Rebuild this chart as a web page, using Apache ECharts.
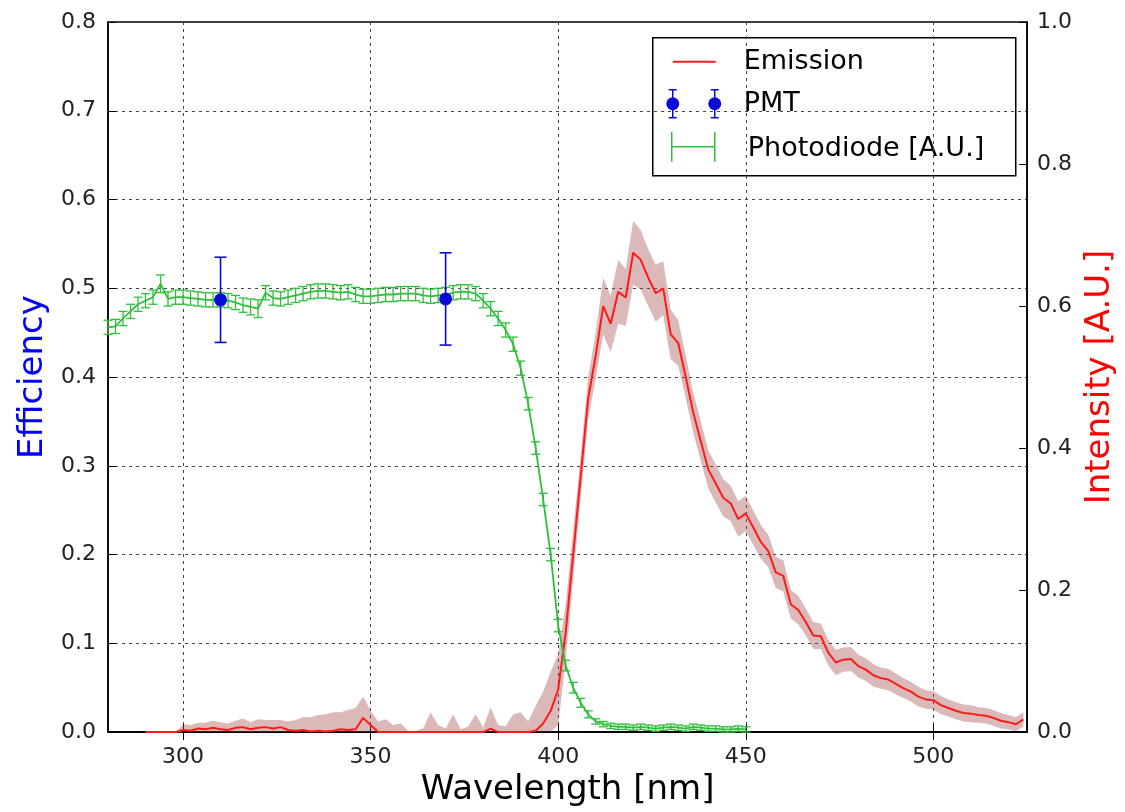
<!DOCTYPE html>
<html><head><meta charset="utf-8">
<script src="https://cdn.jsdelivr.net/npm/echarts@6/dist/echarts.min.js"></script>
<style>html,body{margin:0;padding:0;background:#fff}#c{width:1125px;height:812px}</style>
</head><body><div id="c"></div><script>
const emissionWavelength = [290,292,294,296,298,300,302,304,306,308,310,312,314,316,318,320,322,324,326,328,330,332,334,336,338,340,342,344,346,348,350,352,354,356,358,360,362,364,366,368,370,372,374,376,378,380,382,384,386,388,390,392,394,396,398,400,402,404,406,408,410,412,414,416,418,420,422,424,426,428,430,432,434,436,438,440,442,444,446,448,450,452,454,456,458,460,462,464,466,468,470,472,474,476,478,480,482,484,486,488,490,492,494,496,498,500,502,504,506,508,510,512,514,516,518,520,522,524];
const emissionIntensity = [0,0,0,0,0,0.003,0.002,0.005,0.004,0.006,0.004,0.003,0.006,0.007,0.004,0.006,0.007,0.005,0.007,0.003,0.002,0.003,0.001,0.002,0.001,0.002,0.004,0.003,0.004,0.02,0.01,0,0,0,0,0,0,0,0,0,0,0,0,0,0,0,0.005,0,0,0,0,0,0.002,0.012,0.03,0.06,0.14,0.25,0.36,0.47,0.53,0.6,0.575,0.62,0.612,0.675,0.665,0.64,0.618,0.625,0.56,0.548,0.5,0.45,0.41,0.37,0.35,0.33,0.322,0.3,0.308,0.288,0.268,0.255,0.225,0.22,0.18,0.172,0.155,0.136,0.135,0.112,0.098,0.102,0.103,0.093,0.088,0.08,0.076,0.074,0.068,0.062,0.057,0.05,0.046,0.045,0.038,0.034,0.03,0.027,0.026,0.024,0.023,0.02,0.016,0.014,0.011,0.018];
const emissionErr = [0,0,0,0,0,0.008,0.008,0.008,0.009,0.01,0.01,0.009,0.01,0.012,0.01,0.012,0.01,0.012,0.01,0.012,0.015,0.018,0.02,0.022,0.024,0.026,0.024,0.028,0.03,0.03,0.02,0.015,0.018,0.01,0.012,0.002,0.002,0.005,0.028,0.01,0.005,0.025,0.004,0.008,0.025,0.006,0.03,0.01,0.008,0.025,0.028,0.015,0.035,0.045,0.055,0.05,0.04,0.035,0.03,0.03,0.032,0.04,0.04,0.045,0.04,0.045,0.042,0.04,0.04,0.038,0.035,0.032,0.03,0.028,0.028,0.027,0.027,0.026,0.025,0.025,0.025,0.024,0.024,0.023,0.022,0.022,0.02,0.02,0.019,0.019,0.018,0.018,0.018,0.017,0.017,0.016,0.016,0.016,0.015,0.015,0.015,0.014,0.014,0.014,0.013,0.013,0.013,0.012,0.012,0.012,0.012,0.011,0.011,0.011,0.011,0.01,0.01,0.01];

const photodiodeWavelength = [280,282,284,286,288,290,292,294,296,298,300,302,304,306,308,310,312,314,316,318,320,322,324,326,328,330,332,334,336,338,340,342,344,346,348,350,352,354,356,358,360,362,364,366,368,370,372,374,376,378,380,382,384,386,388,390,392,394,396,398,400,402,404,406,408,410,412,414,416,418,420,422,424,426,428,430,432,434,436,438,440,442,444,446,448,450];
const photodiodeEfficiency = [0.456,0.457,0.466,0.474,0.482,0.486,0.49,0.505,0.488,0.49,0.49,0.489,0.488,0.487,0.487,0.487,0.486,0.484,0.481,0.479,0.477,0.495,0.489,0.488,0.49,0.492,0.494,0.496,0.497,0.497,0.496,0.495,0.496,0.493,0.491,0.491,0.492,0.493,0.493,0.494,0.494,0.494,0.492,0.491,0.492,0.493,0.495,0.496,0.496,0.494,0.486,0.477,0.466,0.453,0.437,0.41,0.37,0.32,0.262,0.2,0.12,0.075,0.05,0.033,0.02,0.012,0.009,0.007,0.006,0.006,0.005,0.006,0.005,0.004,0.005,0.006,0.005,0.004,0.006,0.005,0.004,0.004,0.003,0.003,0.004,0.003];
const photodiodeErr = [0.008,0.008,0.008,0.008,0.008,0.008,0.008,0.01,0.008,0.008,0.008,0.008,0.008,0.008,0.008,0.008,0.008,0.008,0.008,0.009,0.01,0.008,0.008,0.008,0.008,0.008,0.008,0.008,0.008,0.008,0.008,0.008,0.008,0.008,0.008,0.008,0.008,0.008,0.008,0.008,0.008,0.008,0.008,0.008,0.008,0.008,0.008,0.008,0.008,0.008,0.008,0.008,0.008,0.008,0.008,0.008,0.007,0.007,0.007,0.007,0.007,0.006,0.006,0.005,0.004,0.003,0.003,0.003,0.003,0.003,0.003,0.003,0.003,0.003,0.003,0.003,0.003,0.003,0.003,0.003,0.003,0.003,0.003,0.003,0.003,0.003];

const pmtWavelength = [310, 370];
const pmtEfficiency = [0.487, 0.488];
const pmtErr = [0.048, 0.052];

const xTickValues = [300, 350, 400, 450, 500];
const legendLabels = ['Emission', 'PMT', 'Photodiode [A.U.]'];

const FONT = 'DejaVu Sans';
const RED = '#ff1a1a', GREEN = '#2fbf3a', BLUE = '#0a0ad8';
const BAND = 'rgba(160,70,70,0.38)';

const emissionLine = emissionWavelength.map((x, i) => [x, emissionIntensity[i]]);
const bandData = emissionWavelength.map((x, i) => [x, Math.max(0, emissionIntensity[i] - emissionErr[i]), emissionIntensity[i] + emissionErr[i]]);
const pdLine = photodiodeWavelength.map((x, i) => [x, photodiodeEfficiency[i]]);
const pdErr = photodiodeWavelength.map((x, i) => [x, photodiodeEfficiency[i], photodiodeErr[i]]);
const pmtData = pmtWavelength.map((x, i) => [x, pmtEfficiency[i]]);
const pmtErrData = pmtWavelength.map((x, i) => [x, pmtEfficiency[i], pmtErr[i]]);

function errRender(capHalf, color, lw) {
  return function (params, api) {
    const x = api.value(0), y = api.value(1), e = api.value(2);
    const t = api.coord([x, y + e]), b = api.coord([x, y - e]);
    const st = { stroke: color, lineWidth: lw };
    return { type: 'group', children: [
      { type: 'line', shape: { x1: t[0], y1: t[1], x2: b[0], y2: b[1] }, style: st },
      { type: 'line', shape: { x1: t[0] - capHalf, y1: t[1], x2: t[0] + capHalf, y2: t[1] }, style: st },
      { type: 'line', shape: { x1: b[0] - capHalf, y1: b[1], x2: b[0] + capHalf, y2: b[1] }, style: st }
    ]};
  };
}

function bandRender(params, api) {
  if (params.dataIndex !== 0) return null;
  const upper = [], lower = [];
  for (let i = 0; i < bandData.length; i++) {
    upper.push(api.coord([bandData[i][0], bandData[i][2]]));
    lower.push(api.coord([bandData[i][0], bandData[i][1]]));
  }
  const pts = upper.concat(lower.reverse());
  return { type: 'polygon', shape: { points: pts }, style: { fill: BAND, stroke: null } };
}

const chart = echarts.init(document.getElementById('c'), null, { renderer: 'canvas' });
const axisLine = { show: true, lineStyle: { color: '#000', width: 1.5 } };
const tick = { show: true, inside: true, length: 8, lineStyle: { color: '#000', width: 1 } };
const split = { show: true, lineStyle: { color: '#444', type: [3, 4], width: 1 } };
const lbl = { color: '#222', fontFamily: FONT, fontSize: 22 };

chart.setOption({
  animation: false,
  backgroundColor: '#fff',
  grid: { left: 108, right: 95, top: 22, bottom: 79, show: true, borderColor: '#000', borderWidth: 1.5 },
  xAxis: [{
    type: 'value', min: 280, max: 525, position: 'bottom',
    axisLine, axisTick: Object.assign({}, tick, { customValues: xTickValues }),
    axisLabel: Object.assign({}, lbl, { customValues: xTickValues, margin: 14 }),
    splitLine: split,
    name: 'Wavelength [nm]', nameLocation: 'middle', nameGap: 40,
    nameTextStyle: { fontFamily: FONT, fontSize: 34, color: '#000' }
  }, {
    type: 'value', min: 280, max: 525, position: 'top',
    axisLine, axisTick: Object.assign({}, tick, { customValues: xTickValues }),
    axisLabel: { show: false }, splitLine: { show: false }
  }],
  yAxis: [{
    type: 'value', min: 0, max: 0.8, interval: 0.1, position: 'left',
    axisLine, axisTick: tick,
    axisLabel: Object.assign({}, lbl, { margin: 12, formatter: v => v.toFixed(1) }),
    splitLine: split,
    name: 'Efficiency', nameLocation: 'middle', nameGap: 56,
    nameTextStyle: { fontFamily: FONT, fontSize: 34, color: '#0000ff' }
  }, {
    type: 'value', min: 0, max: 1.0, interval: 0.2, position: 'right',
    axisLine, axisTick: tick,
    axisLabel: Object.assign({}, lbl, { margin: 10, formatter: v => v.toFixed(1) }),
    splitLine: { show: false },
    name: 'Intensity [A.U.]', nameLocation: 'middle', nameGap: 52,
    nameTextStyle: { fontFamily: FONT, fontSize: 34, color: '#ff0000' }
  }],
  series: [
    { name: 'emissionBand', type: 'custom', yAxisIndex: 1, data: bandData,
      encode: { x: 0, y: [1, 2] }, renderItem: bandRender, silent: true, z: 1 },
    { name: legendLabels[0], type: 'line', yAxisIndex: 1, data: emissionLine, symbol: 'none',
      lineStyle: { color: RED, width: 2 }, z: 2 },
    { name: legendLabels[2], type: 'line', data: pdLine, symbol: 'none',
      lineStyle: { color: GREEN, width: 1.8 }, z: 3 },
    { name: 'pdErr', type: 'custom', data: pdErr, encode: { x: 0, y: 1 },
      renderItem: errRender(4.5, GREEN, 1.3), z: 3 },
    { name: 'pmtErr', type: 'custom', data: pmtErrData, encode: { x: 0, y: 1 },
      renderItem: errRender(6, BLUE, 1.6), z: 4 },
    { name: legendLabels[1], type: 'scatter', data: pmtData, symbol: 'circle', symbolSize: 13,
      itemStyle: { color: BLUE, opacity: 1 }, z: 5 }
  ],
  graphic: [{
    type: 'group', left: 652, top: 37, z: 100,
    children: [
      { type: 'rect', shape: { x: 0, y: 0, width: 363, height: 138 }, style: { fill: '#fff', stroke: '#000', lineWidth: 1.5 } },
      { type: 'line', shape: { x1: 20, y1: 24, x2: 63, y2: 24 }, style: { stroke: RED, lineWidth: 2 } },
      { type: 'text', x: 91, y: 24, style: { text: legendLabels[0], font: '27px "DejaVu Sans"', fill: '#000', verticalAlign: 'middle' } },
      { type: 'line', shape: { x1: 20, y1: 52, x2: 20, y2: 80 }, style: { stroke: BLUE, lineWidth: 1.5 } },
      { type: 'line', shape: { x1: 16, y1: 52, x2: 24, y2: 52 }, style: { stroke: BLUE, lineWidth: 1.5 } },
      { type: 'line', shape: { x1: 16, y1: 80, x2: 24, y2: 80 }, style: { stroke: BLUE, lineWidth: 1.5 } },
      { type: 'circle', shape: { cx: 20, cy: 66, r: 6.5 }, style: { fill: BLUE } },
      { type: 'line', shape: { x1: 62, y1: 52, x2: 62, y2: 80 }, style: { stroke: BLUE, lineWidth: 1.5 } },
      { type: 'line', shape: { x1: 58, y1: 52, x2: 66, y2: 52 }, style: { stroke: BLUE, lineWidth: 1.5 } },
      { type: 'line', shape: { x1: 58, y1: 80, x2: 66, y2: 80 }, style: { stroke: BLUE, lineWidth: 1.5 } },
      { type: 'circle', shape: { cx: 62, cy: 66, r: 6.5 }, style: { fill: BLUE } },
      { type: 'text', x: 91, y: 66, style: { text: legendLabels[1], font: '27px "DejaVu Sans"', fill: '#000', verticalAlign: 'middle' } },
      { type: 'line', shape: { x1: 19, y1: 94, x2: 19, y2: 124 }, style: { stroke: GREEN, lineWidth: 1.5 } },
      { type: 'line', shape: { x1: 62, y1: 94, x2: 62, y2: 124 }, style: { stroke: GREEN, lineWidth: 1.5 } },
      { type: 'line', shape: { x1: 19, y1: 109, x2: 62, y2: 109 }, style: { stroke: GREEN, lineWidth: 1.5 } },
      { type: 'text', x: 95, y: 111, style: { text: legendLabels[2], font: '27px "DejaVu Sans"', fill: '#000', verticalAlign: 'middle' } }
    ]
  }]
});
</script></body></html>
